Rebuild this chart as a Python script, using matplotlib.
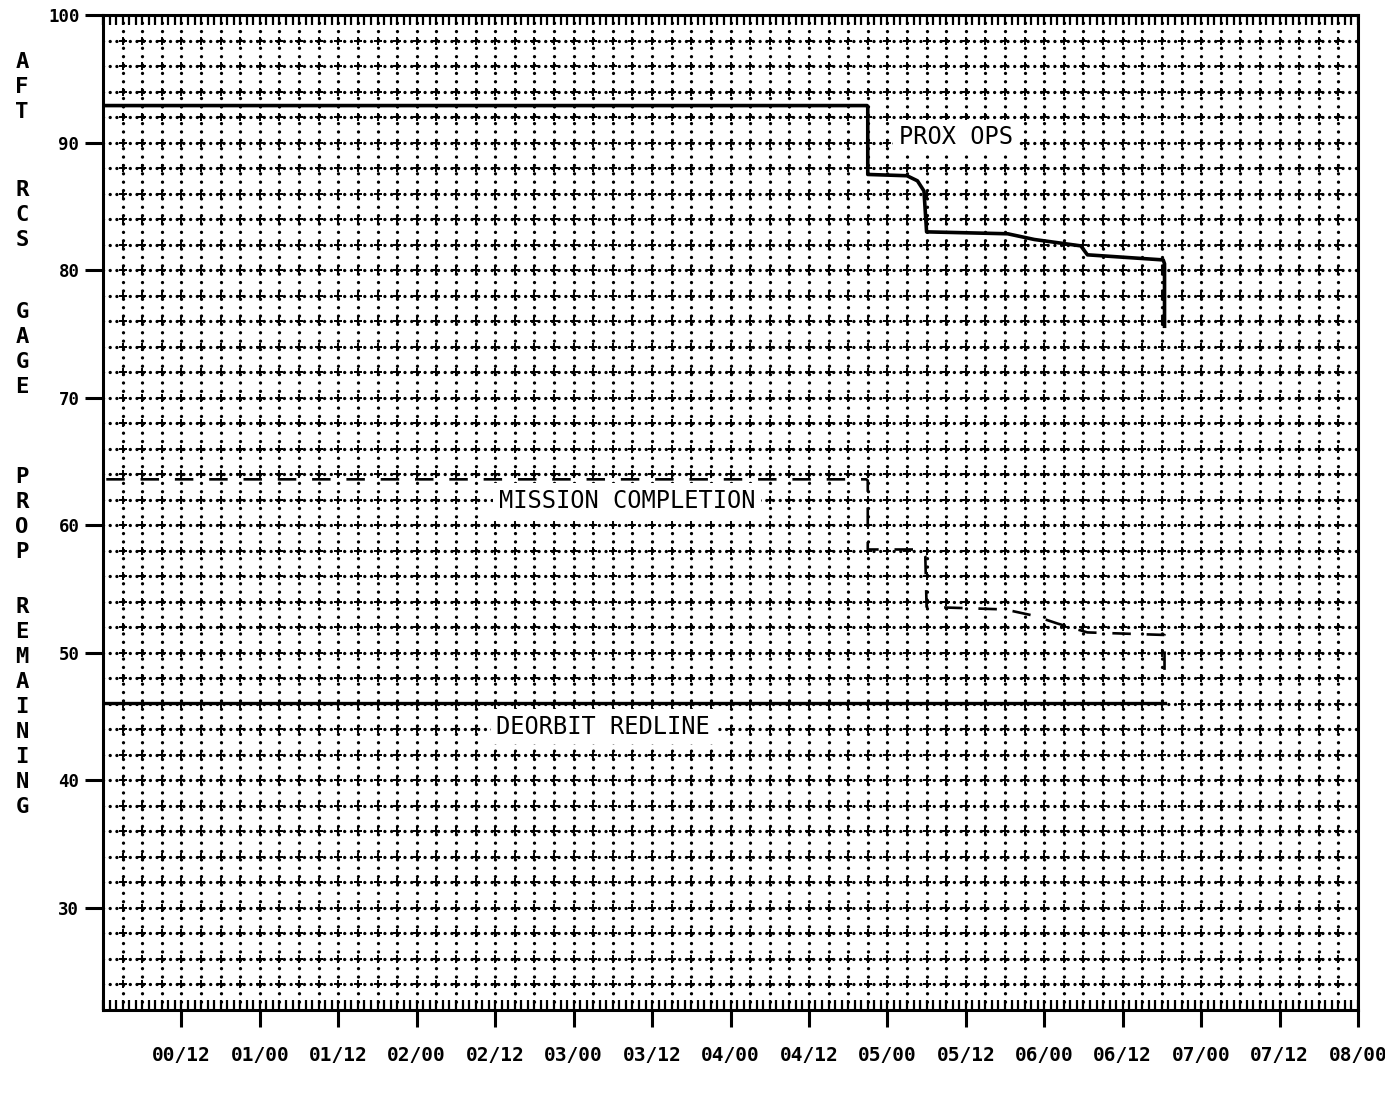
import matplotlib
matplotlib.use("Agg")
import matplotlib.pyplot as plt
import numpy as np
from matplotlib.ticker import MultipleLocator

# hours from 00/00, percent remaining
prop_hours = [0, 0, 116.9, 117.0, 117.0, 123.0, 124.6, 125.6, 126.0, 138.4, 142.5, 149.6, 150.6, 162.2, 162.4, 162.4]
prop_pct = [100, 92.9, 92.9, 92.8, 87.5, 87.4, 87.0, 86.2, 83.0, 82.85, 82.4, 81.9, 81.2, 80.8, 80.5, 75.6]

mission_hours = [0.5, 116.8, 117.0, 117.0, 125.2, 125.8, 126.0, 138.0, 142.5, 146.0, 150.6, 162.4, 162.4]
mission_pct = [63.6, 63.6, 63.5, 58.1, 58.1, 57.6, 53.6, 53.4, 52.9, 52.3, 51.6, 51.4, 47.9]

redline_hours = [0, 162.4]
redline_pct = [46.1, 46.1]

tick_hours = [12, 24, 36, 48, 60, 72, 84, 96, 108, 120, 132, 144, 156, 168, 180, 192]
tick_labels = ["00/12", "01/00", "01/12", "02/00", "02/12", "03/00", "03/12", "04/00",
               "04/12", "05/00", "05/12", "06/00", "06/12", "07/00", "07/12", "08/00"]
y_ticks = [30, 40, 50, 60, 70, 80, 90, 100]

ylabel_words = ["AFT", "RCS", "GAGE", "PROP", "REMAINING"]
word_tops = [62, 190, 312, 477, 607]   # pixel rows of first letter

W, H = 1385, 1098
fig = plt.figure(figsize=(W / 100, H / 100), dpi=100)
ax = fig.add_axes([103 / W, 1 - 1010 / H, (1358 - 103) / W, (1010 - 15) / H])
ax.set_xlim(0, 192)
ax.set_ylim(22, 100)

# dotted plotter grid
for gx in np.arange(3, 192, 3):
    ax.axvline(gx, color="black", lw=2.4, linestyle=(0, (0.01, 2.5)),
               dash_capstyle="round", zorder=1)
for gy in np.arange(24, 100, 2):
    ax.axhline(gy, color="black", lw=2.4, linestyle=(0, (0.01, 2.0)),
               dash_capstyle="round", zorder=1)
gx, gy = np.meshgrid(np.arange(3, 192, 3), np.arange(24, 100, 2))
ax.plot(gx.ravel(), gy.ravel(), "+", color="black", ms=5.5, mew=1.4, zorder=1)

ax.plot(prop_hours, prop_pct, color="black", lw=2.6, zorder=4)
ax.plot(mission_hours, mission_pct, color="black", lw=1.9, linestyle=(0, (7, 6)), zorder=4)
ax.plot(redline_hours, redline_pct, color="black", lw=2.4, zorder=4)

box = dict(facecolor="white", edgecolor="none", pad=4)
ax.text(121.8, 90.4, "PROX OPS", family="DejaVu Sans Mono", fontsize=17,
        va="center", ha="left", bbox=box, zorder=3)
ax.text(60.6, 61.9, "MISSION COMPLETION", family="DejaVu Sans Mono", fontsize=17,
        va="center", ha="left", bbox=box, zorder=3)
ax.text(60.2, 44.2, "DEORBIT REDLINE", family="DejaVu Sans Mono", fontsize=17,
        va="center", ha="left", bbox=box, zorder=3)

for s in ax.spines.values():
    s.set_linewidth(2.2)

ax.set_xticks(tick_hours)
ax.set_xticklabels(tick_labels)
ax.xaxis.set_minor_locator(MultipleLocator(1))
ax.xaxis.remove_overlapping_locs = False
ax.tick_params(axis="x", which="major", direction="out", length=12, width=2.2,
               pad=14, labelsize=14, top=False)
ax.tick_params(axis="x", which="minor", direction="in", length=7, width=1.6,
               top=True, bottom=True)
ax.set_yticks(y_ticks)
ax.tick_params(axis="y", direction="out", length=13, width=2.2, pad=4,
               labelsize=12.5, right=False)
for lab in ax.get_xticklabels() + ax.get_yticklabels():
    lab.set_family("DejaVu Sans Mono")
    lab.set_fontweight("bold")

for word, top in zip(ylabel_words, word_tops):
    for i, ch in enumerate(word):
        fig.text(22 / W, 1 - (top + i * 25) / H, ch, family="DejaVu Sans Mono",
                 fontweight="bold", fontsize=16, ha="center", va="center")

fig.savefig("out.png", dpi=100, facecolor="white")
